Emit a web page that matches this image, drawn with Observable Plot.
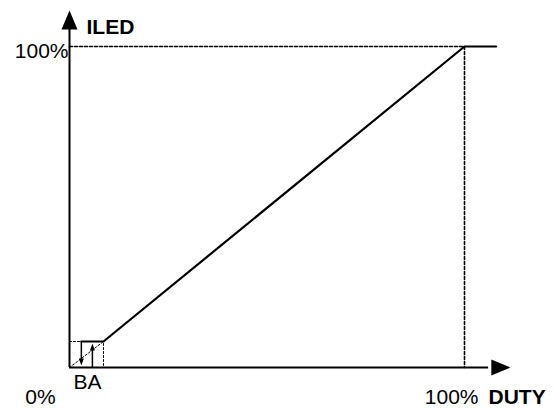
<!DOCTYPE html>
<html>
<head>
<meta charset="utf-8">
<script src="https://cdn.jsdelivr.net/npm/d3@7"></script>
<script src="https://cdn.jsdelivr.net/npm/@observablehq/plot@0.6"></script>
<style>
  html, body { margin: 0; padding: 0; background: #fff; }
  #chart svg { display: block; overflow: visible; }
</style>
</head>
<body>
<div id="chart"></div>
<script>
// Main transfer curve (DUTY %, ILED %)
const curveDuty = [3, 8.6, 100, 108];
const curveIled = [8.1, 8.1, 100, 100];

// Guide lines (dashed) at 100%
const guideDuty = [0, 100, 100];
const guideIled = [100, 100, 0];

// Small dotted box near the origin
const boxDuty = [0, 3, 8.6, 8.6];
const boxIled = [8.1, 8.1, 8.1, 0];
const diagDuty = [0, 8.6];
const diagIled = [0, 8.1];

// B (down) and A (up) arrows
const arrowNames = ["B", "A"];
const arrowDuty = [3, 5.8];
const arrowFrom = [8.1, 0];
const arrowTo = [0.6, 7.5];

// Axis extents (arrow tips)
const xAxisEnd = 111.6;
const yAxisEnd = 111.2;

// Labels
const tickLabels = ["0%", "100%", "100%"];

const curve = curveDuty.map((d, i) => ({x: d, y: curveIled[i]}));
const guide = guideDuty.map((d, i) => ({x: d, y: guideIled[i]}));
const box = boxDuty.map((d, i) => ({x: d, y: boxIled[i]}));
const diag = diagDuty.map((d, i) => ({x: d, y: diagIled[i]}));
const arrows = arrowNames.map((n, i) => ({name: n, x: arrowDuty[i], y1: arrowFrom[i], y2: arrowTo[i], down: arrowTo[i] < arrowFrom[i]}));

// filled arrowhead symbols, anchored at the tip
const bigHead = { draw(ctx) { ctx.moveTo(0, 0); ctx.lineTo(-8, 19); ctx.lineTo(8, 19); ctx.closePath(); } };
const smallHead = { draw(ctx) { ctx.moveTo(0, 0); ctx.lineTo(-2.5, 7); ctx.lineTo(2.5, 7); ctx.closePath(); } };

const font = "Arial, 'Liberation Sans', sans-serif";

const chart = Plot.plot({
  width: 555,
  height: 408,
  style: {background: "#fff", fontFamily: font},
  x: {domain: [0, 100], range: [69, 464], axis: null},
  y: {domain: [0, 100], range: [367, 46], axis: null},
  marks: [
    // dashed guides
    Plot.line(guide, {x: "x", y: "y", stroke: "#000", strokeWidth: 1.6, strokeDasharray: "3,2"}),
    // small dotted box + diagonal
    Plot.line(box, {x: "x", y: "y", stroke: "#000", strokeWidth: 1, strokeDasharray: "2,2"}),
    Plot.line(diag, {x: "x", y: "y", stroke: "#000", strokeWidth: 1, strokeDasharray: "2,2"}),
    // axes
    Plot.ruleX([0], {y1: 0, y2: yAxisEnd - 5.5, stroke: "#000", strokeWidth: 2}),
    Plot.ruleY([0], {x1: 0, x2: xAxisEnd - 5.5, stroke: "#000", strokeWidth: 2}),
    Plot.dot([{x: 0, y: yAxisEnd}], {x: "x", y: "y", symbol: bigHead, fill: "#000", stroke: "none"}),
    Plot.dot([{x: xAxisEnd, y: 0}], {x: "x", y: "y", symbol: bigHead, fill: "#000", stroke: "none", rotate: 90}),
    // B / A arrows
    Plot.ruleX(arrows, {x: "x", y1: "y1", y2: d => d.y2 + (d.down ? 1.5 : -1.5), stroke: "#000", strokeWidth: 1.5}),
    Plot.dot(arrows, {x: "x", y: "y2", symbol: smallHead, fill: "#000", stroke: "none", rotate: d => d.down ? 180 : 0}),
    // main curve
    Plot.line(curve, {x: "x", y: "y", stroke: "#000", strokeWidth: 2.2}),
    // labels
    Plot.text([tickLabels[0]], {x: 0, y: 0, text: d => d, fontSize: 21, textAnchor: "middle", dx: -29, dy: 30, fill: "#000"}),
    Plot.text([tickLabels[1]], {x: 0, y: 100, text: d => d, fontSize: 21, textAnchor: "end", dx: -1, dy: 4.5, fill: "#000"}),
    Plot.text([tickLabels[2]], {x: 100, y: 0, text: d => d, fontSize: 21, textAnchor: "end", dx: 14, dy: 30, fill: "#000"}),
    Plot.text(["ILED"], {x: 0, y: yAxisEnd, text: d => d, fontSize: 21, fontWeight: "bold", textAnchor: "start", dx: 17, dy: 16.5, fill: "#000"}),
    Plot.text(["DUTY"], {x: 100, y: 0, text: d => d, fontSize: 21, fontWeight: "bold", textAnchor: "start", dx: 24, dy: 30, fill: "#000"}),
    Plot.text([arrowNames.join("")], {x: 0, y: 0, text: d => d, fontSize: 21, textAnchor: "start", dx: 4, dy: 14.5, fill: "#000"})
  ]
});

document.getElementById("chart").appendChild(chart);
</script>
</body>
</html>
